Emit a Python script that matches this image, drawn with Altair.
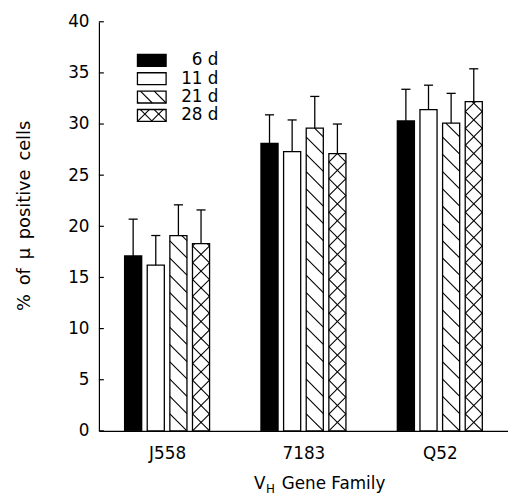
import altair as alt
import pandas as pd

# ---------------- data ----------------
groups = ["J558", "7183", "Q52"]
series = ["6 d", "11 d", "21 d", "28 d"]
mean_6d = [17.1, 28.1, 30.3]
mean_11d = [16.2, 27.3, 31.4]
mean_21d = [19.1, 29.6, 30.1]
mean_28d = [18.3, 27.1, 32.2]
err_6d = [3.6, 2.8, 3.1]
err_11d = [2.9, 3.1, 2.4]
err_21d = [3.0, 3.1, 2.9]
err_28d = [3.3, 2.9, 3.2]
y_ticks = [0, 5, 10, 15, 20, 25, 30, 35, 40]
y_title = "%\u2002of\u2002μ\u2002positive\u2002cells"

means = [mean_6d, mean_11d, mean_21d, mean_28d]
errs = [err_6d, err_11d, err_21d, err_28d]
styles = ["solid", "empty", "back", "cross"]

# ---------------- layout constants ----------------
W, H = 414, 414
YMAX = 40
PXX = W / 3.0          # pixels per x unit (groups at 1,2,3, domain 0.5..3.5)
PXY = H / YMAX         # pixels per y unit
PITCH = 22.9 / PXX
BW = 17.3 / PXX
CAP = 4.6 / PXX
PERIOD = 17.0

FONT = "DejaVu Sans"


def hatch(X0, X1, T0, T1, style, P=None):
    """Hatch segments for a pixel rectangle (x from plot left, t up from baseline)."""
    segs = []
    if style == "back":
        dirs = [-1]
    elif style == "cross":
        dirs = [-1, 1]
    else:
        return segs
    if P is None:
        P = PERIOD if style == "cross" else 17.5
    for s in dirs:
        c0 = T0 - X0 if s == 1 else T0 + X1
        if s == 1:
            cmin, cmax = T0 - X1, T1 - X0
        else:
            cmin, cmax = T0 + X0, T1 + X1
        k0 = int((cmin - c0) // P) - 1
        k1 = int((cmax - c0) // P) + 2
        for k in range(k0, k1):
            c = c0 + k * P
            if s == 1:
                lo, hi = T0 - c, T1 - c
            else:
                lo, hi = c - T1, c - T0
            lo, hi = max(lo, X0), min(hi, X1)
            if hi - lo > 0.5:
                segs.append(
                    dict(
                        x=0.5 + lo / PXX,
                        x2=0.5 + hi / PXX,
                        y=(c + s * lo) / PXY,
                        y2=(c + s * hi) / PXY,
                    )
                )
    return segs


bars, hatches = [], []
for si, sname in enumerate(series):
    for gi, g in enumerate(groups):
        cx = gi + 1 + (si - 1.5) * PITCH
        m = means[si][gi]
        e = errs[si][gi]
        bars.append(
            dict(series=sname, group=g, x=cx - BW / 2, x2=cx + BW / 2, cx=cx,
                 cl=cx - CAP, cr=cx + CAP, mean=m, top=m + e, zero=0,
                 fill="black" if styles[si] == "solid" else "white")
        )
        X0 = (cx - BW / 2 - 0.5) * PXX
        X1 = (cx + BW / 2 - 0.5) * PXX
        hatches += hatch(X0, X1, 0, m * PXY, styles[si])

bars_df = pd.DataFrame(bars)

# legend (pixel layout converted to data units)
leg = []
for si, sname in enumerate(series):
    top_px = 33 + 18.6 * si          # from plot top
    h_px = 12
    X0, X1 = 39, 68
    T1 = H - top_px
    T0 = T1 - h_px
    leg.append(dict(series=sname,
                    x=0.5 + X0 / PXX, x2=0.5 + X1 / PXX,
                    y=T0 / PXY, y2=T1 / PXY,
                    tx=0.5 + 121 / PXX, ty=(T0 + T1) / 2 / PXY,
                    fill="black" if styles[si] == "solid" else "white"))
    hatches += hatch(X0, X1, T0, T1, styles[si], P=14.0)
leg_df = pd.DataFrame(leg)
hatch_df = pd.DataFrame(hatches)

xscale = alt.Scale(domain=[0.5, 3.5], nice=False, zero=False)
yscale = alt.Scale(domain=[0, YMAX], nice=False)

label_expr = "datum.value == 1 ? 'J558' : datum.value == 2 ? '7183' : 'Q52'"

base_bars = alt.Chart(bars_df)

bar_layer = base_bars.mark_rect(stroke="black", strokeWidth=1.3).encode(
    x=alt.X("x:Q", scale=xscale,
            axis=alt.Axis(values=[1, 2, 3], labelExpr=label_expr, title=None,
                          ticks=False, tickSize=0, grid=False, labelPadding=15,
                          labelFontSize=17, labelFont=FONT, labelColor="black",
                          domainColor="black", domainWidth=1.2)),
    x2="x2:Q",
    y=alt.Y("zero:Q", scale=yscale,
            axis=alt.Axis(values=y_ticks, title=y_title, ticks=False, tickSize=0,
                          grid=False, labelPadding=10, labelFontSize=17,
                          labelFont=FONT, labelColor="black", domainColor="black",
                          domainWidth=1.2, titleFont=FONT, titleFontSize=18,
                          titleFontWeight="normal", titleColor="black",
                          titleAngle=270, titleX=-75, titleY=196,
                          titleAlign="center", titleBaseline="middle")),
    y2="mean:Q",
    fill=alt.Fill("fill:N", scale=None),
)

err_line = base_bars.mark_rule(color="black", strokeWidth=1.3).encode(
    x="cx:Q", y="mean:Q", y2="top:Q")
err_cap = base_bars.mark_rule(color="black", strokeWidth=1.3).encode(
    x="cl:Q", x2="cr:Q", y="top:Q")

hatch_layer = alt.Chart(hatch_df).mark_rule(color="black", strokeWidth=1.1).encode(
    x="x:Q", x2="x2:Q", y="y:Q", y2="y2:Q")

leg_box = alt.Chart(leg_df).mark_rect(stroke="black", strokeWidth=1.3).encode(
    x="x:Q", x2="x2:Q", y="y:Q", y2="y2:Q", fill=alt.Fill("fill:N", scale=None))
leg_text = alt.Chart(leg_df).mark_text(
    align="right", baseline="middle", font=FONT, fontSize=17, color="black"
).encode(x="tx:Q", y="ty:Q", text="series:N")

ytick_df = pd.DataFrame({"v": y_ticks})
inner_ticks = alt.Chart(ytick_df).mark_rule(color="black", strokeWidth=1.2).encode(
    y="v:Q", x=alt.value(0), x2=alt.value(5))

title_df = pd.DataFrame({"t": ["V", "H", "Gene Family"]})
t_v = alt.Chart(title_df).transform_filter("datum.t == 'V'").mark_text(
    align="left", baseline="alphabetic", font=FONT, fontSize=17, color="black"
).encode(x=alt.value(157), y=alt.value(473), text="t:N")
t_h = alt.Chart(title_df).transform_filter("datum.t == 'H'").mark_text(
    align="left", baseline="alphabetic", font=FONT, fontSize=12, color="black"
).encode(x=alt.value(169), y=alt.value(477), text="t:N")
t_g = alt.Chart(title_df).transform_filter("datum.t == 'Gene Family'").mark_text(
    align="left", baseline="alphabetic", font=FONT, fontSize=17, color="black"
).encode(x=alt.value(185), y=alt.value(473), text="t:N")

chart = alt.layer(
    bar_layer, leg_box, hatch_layer, err_line, err_cap, leg_text, inner_ticks,
    t_v, t_h, t_g
).properties(
    width=W, height=H,
    autosize=alt.AutoSizeParams(type="none"),
    padding={"left": 92, "top": 11, "right": 0, "bottom": 64},
    background="white",
).configure_view(stroke=None)

chart.save("out.html", embed_options={"renderer": "svg", "actions": False})
